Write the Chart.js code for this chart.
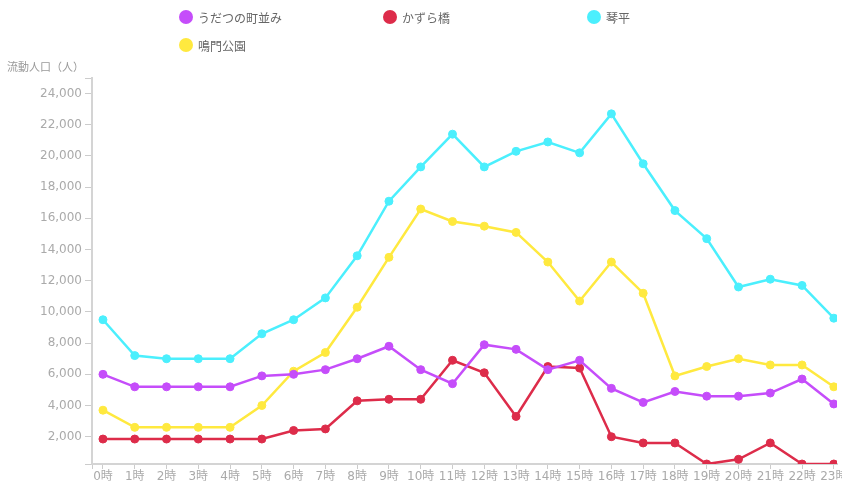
<!DOCTYPE html>
<html lang="ja">
<head>
<meta charset="utf-8">
<script src="https://cdn.jsdelivr.net/npm/chart.js@4/dist/chart.umd.min.js"></script>
<style>
  html, body { margin: 0; padding: 0; background: #fff; }
  #wrap { position: relative; width: 842px; height: 484px; overflow: hidden; }
  #chart { position: absolute; left: 0; top: 0; }
  .legend { position: absolute; left: 179px; top: 9px; width: 620px;
            display: grid; grid-template-columns: 204px 204px 204px; row-gap: 12px;
            font: 12px "DejaVu Sans", "Noto Sans CJK JP", sans-serif; color: #666; }
  .legend div { display: flex; align-items: center; height: 16px; }
  .legend span { display: inline-block; width: 14px; height: 14px; border-radius: 50%; margin-right: 5px; }
  .ytitle { position: absolute; left: 7px; top: 58px;
            font: 11px "Noto Sans CJK JP", sans-serif; color: #999; }
</style>
</head>
<body>
<div id="wrap">
  <canvas id="chart" width="842" height="484"></canvas>
  <div class="legend" id="legend"></div>
  <div class="ytitle">流動人口（人）</div>
</div>
<script>
// 時間帯ごとの流動人口
const hours = ['0時', '1時', '2時', '3時', '4時', '5時', '6時', '7時', '8時', '9時', '10時', '11時',
               '12時', '13時', '14時', '15時', '16時', '17時', '18時', '19時', '20時', '21時', '22時', '23時'];

const udatsu = [6000, 5200, 5200, 5200, 5200, 5900, 6000, 6300, 7000, 7800, 6300, 5400,
                7900, 7600, 6300, 6900, 5100, 4200, 4900, 4600, 4600, 4800, 5700, 4100];
const kazurabashi = [1850, 1850, 1850, 1850, 1850, 1850, 2400, 2500, 4300, 4400, 4400, 6900,
                     6100, 3300, 6500, 6400, 2000, 1600, 1600, 250, 550, 1600, 250, 250];
const kotohira = [9500, 7200, 7000, 7000, 7000, 8600, 9500, 10900, 13600, 17100, 19300, 21400,
                  19300, 20300, 20900, 20200, 22700, 19500, 16500, 14700, 11600, 12100, 11700, 9600];
const narutoPark = [3700, 2600, 2600, 2600, 2600, 4000, 6200, 7400, 10300, 13500, 16600, 15800,
                    15500, 15100, 13200, 10700, 13200, 11200, 5900, 6500, 7000, 6600, 6600, 5200];

const seriesNames = ['うだつの町並み', 'かずら橋', '琴平', '鳴門公園'];
const seriesData = [udatsu, kazurabashi, kotohira, narutoPark];
const seriesColors = ['#C54DFA', '#DD2C4A', '#4BEFFD', '#FFE93F'];

const yTicks = [2000, 4000, 6000, 8000, 10000, 12000, 14000, 16000, 18000, 20000, 22000, 24000];
const yMin = 250;
const yMax = 25000;

const axisFont = { family: '"DejaVu Sans", "Noto Sans CJK JP", sans-serif', size: 12 };

// 凡例（HTML）
const legend = document.getElementById('legend');
seriesNames.forEach((name, i) => {
    const item = document.createElement('div');
    item.innerHTML = `<span style="background:${seriesColors[i]}"></span>${name}`;
    legend.appendChild(item);
});

new Chart(document.getElementById('chart'), {
    type: 'line',
    data: {
        datasets: seriesNames.map((name, i) => ({
            label: name,
            data: seriesData[i].map((v, h) => ({ x: h, y: v })),
            borderColor: seriesColors[i],
            backgroundColor: seriesColors[i],
            pointBackgroundColor: seriesColors[i],
            pointBorderColor: seriesColors[i],
            borderWidth: 2.5,
            pointRadius: 4,
            pointBorderWidth: 1,
            tension: 0
        }))
    },
    options: {
        responsive: false,
        animation: false,
        layout: { padding: { top: 78, right: 3, left: 0, bottom: 0 } },
        plugins: {
            legend: { display: false },
            tooltip: { enabled: false }
        },
        scales: {
            x: {
                type: 'linear',
                min: -0.345,
                max: 23.1,
                afterBuildTicks: function(scale) {
                    scale.ticks = [{ value: -0.345 }].concat(hours.map((h, i) => ({ value: i })));
                },
                afterFit: function(scale) {
                    scale.height = 20;
                    scale.paddingLeft = 0;
                    scale.paddingRight = 0;
                },
                grid: { drawOnChartArea: false, drawTicks: true, tickLength: 5, tickColor: '#ccc', tickWidth: 1 },
                border: { display: true, color: '#d4d4d4', width: 2 },
                ticks: {
                    autoSkip: false,
                    maxRotation: 0,
                    padding: 1,
                    color: '#aaa',
                    font: axisFont,
                    callback: function(value) {
                        return Number.isInteger(value) ? hours[value] : '';
                    }
                }
            },
            y: {
                min: yMin,
                max: yMax,
                afterBuildTicks: function(scale) {
                    scale.ticks = [{ value: yMin }].concat(yTicks.map(v => ({ value: v })), [{ value: yMax }]);
                },
                afterFit: function(scale) {
                    scale.width = 92;
                },
                grid: { drawOnChartArea: false, drawTicks: true, tickLength: 7, tickColor: '#ccc', tickWidth: 1 },
                border: { display: true, color: '#d4d4d4', width: 2 },
                ticks: {
                    padding: 3,
                    color: '#aaa',
                    font: axisFont,
                    callback: function(value) {
                        return yTicks.includes(value) ? value.toLocaleString('en-US') : '';
                    }
                }
            }
        }
    }
});
</script>
</body>
</html>
